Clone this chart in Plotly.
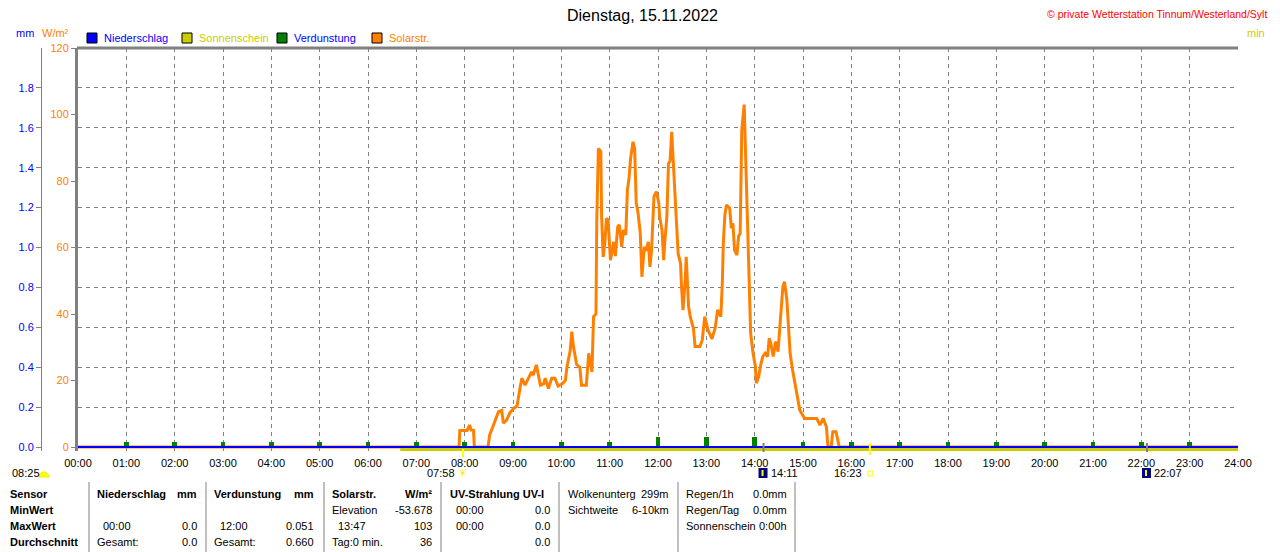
import math
import plotly.graph_objects as go

# ---- data --------------------------------------------------------------
solar_time = [
    "00:00", "07:53", "07:54", "08:03", "08:06", "08:08", "08:11", "08:12",
    "08:29", "08:31", "08:35", "08:42", "08:46", "08:48", "08:52", "08:56",
    "09:01", "09:05", "09:09", "09:11", "09:15", "09:19", "09:23", "09:25",
    "09:29", "09:34", "09:38", "09:40", "09:44", "09:48", "09:52", "09:56",
    "10:01", "10:05", "10:07", "10:11", "10:13", "10:15", "10:19", "10:23",
    "10:25", "10:31", "10:34", "10:38", "10:40", "10:43", "10:44", "10:46",
    "10:49", "10:50", "10:52", "10:54", "10:56", "10:58",
    "11:01", "11:02", "11:05", "11:07", "11:10", "11:12", "11:15", "11:17",
    "11:20", "11:22", "11:24", "11:26", "11:29", "11:31", "11:33", "11:35",
    "11:38", "11:40", "11:43", "11:45", "11:48", "11:50", "11:52", "11:55",
    "11:58",
    "12:01", "12:02", "12:05", "12:07", "12:08", "12:11", "12:13", "12:15",
    "12:17", "12:19", "12:21", "12:23", "12:25", "12:28", "12:29", "12:31",
    "12:34", "12:35", "12:38", "12:40", "12:44", "12:46", "12:52", "12:55",
    "12:58",
    "13:02", "13:07", "13:11", "13:14", "13:18", "13:20", "13:21", "13:23",
    "13:25", "13:29", "13:31", "13:33", "13:35", "13:38", "13:40", "13:42",
    "13:44", "13:47", "13:48", "13:50", "13:52", "13:53", "13:55", "13:58",
    "14:01", "14:02", "14:05", "14:07", "14:10", "14:13", "14:16", "14:18",
    "14:20", "14:23", "14:26", "14:29", "14:32", "14:35", "14:37", "14:40",
    "14:42", "14:44", "14:47", "14:50", "14:53", "14:56",
    "15:02", "15:17", "15:21", "15:25", "15:29", "15:31", "15:35", "15:37",
    "15:41", "15:45", "24:00",
]
solar_wm2 = [
    0, 0, 5.0, 5.0, 6.6, 5.1, 5.0, 0,
    0, 3.6, 6.1, 10.6, 11.0, 7.2, 8.1, 10.2,
    11.7, 12.3, 18.1, 20.7, 18.6, 20.7, 22.6, 21.6,
    24.7, 18.6, 19.0, 20.7, 17.6, 20.7, 20.7, 18.3,
    19.0, 20.0, 24.1, 29.0, 34.7, 30.2, 24.8, 24.0,
    18.6, 18.6, 28.2, 22.6, 39.2, 40.0, 68.3, 89.8,
    88.8, 69.3, 57.2, 61.3, 68.8, 68.3,
    56.2, 57.6, 61.7, 57.4, 66.3, 66.8, 60.2, 65.3,
    63.8, 77.3, 80.8, 86.8, 91.8, 89.8, 73.3, 70.8,
    64.3, 51.2, 60.2, 59.0, 61.7, 54.2, 59.2, 75.3,
    76.8,
    73.3, 69.3, 65.3, 56.2, 60.2, 69.3, 85.3, 86.0,
    94.8, 84.3, 73.3, 67.3, 58.2, 55.2, 49.2, 41.2,
    51.2, 57.2, 42.2, 39.2, 35.7, 30.2, 30.2, 32.2,
    39.2,
    35.2, 32.5, 35.8, 41.2, 39.2, 50.2, 60.8, 69.8,
    72.8, 71.8, 65.8, 67.3, 59.2, 57.7, 63.3, 64.3,
    95.3, 103.0, 94.3, 76.3, 58.2, 45.2, 34.2, 28.2,
    24.1, 19.2, 21.1, 24.1, 27.2, 28.2, 27.2, 32.7,
    31.2, 27.2, 31.7, 28.7, 38.2, 48.2, 49.7, 44.2,
    36.2, 28.2, 23.2, 19.2, 16.1, 11.1,
    8.6, 8.6, 6.6, 8.6, 6.1, 0, 0, 4.6,
    4.6, 0, 0,
]

verd_hour = list(range(1, 24))
verd_mm = [0.025, 0.025, 0.025, 0.025, 0.025, 0.025, 0.025, 0.025, 0.025, 0.025,
           0.025, 0.051, 0.049, 0.050, 0.025, 0.025, 0.025, 0.025, 0.025, 0.025,
           0.025, 0.025, 0.025]

nieder_time = ["00:00", "24:00"]
nieder_mm = [0.0, 0.0]

sonnen_time = ["06:40", "24:00"]
sonnen_min = [0.0, 0.0]

x_ticks = list(range(25))
x_labels = [f"{h:02d}:00" for h in x_ticks]
wm2_ticks = [0, 20, 40, 60, 80, 100, 120]
mm_ticks = [0.0, 0.2, 0.4, 0.6, 0.8, 1.0, 1.2, 1.4, 1.6, 1.8]
min_ticks = [0, 5, 10, 15, 20]

title = "Dienstag, 15.11.2022"
copyright = "© private Wetterstation Tinnum/Westerland/Sylt"
legend_items = ["Niederschlag", "Sonnenschein", "Verdunstung", "Solarstr."]

sunrise, sunset = "07:58", "16:23"
moonrise, moonset = "14:11", "22:07"
left_event = "08:25"

row_names = ["Sensor", "MinWert", "MaxWert", "Durchschnitt"]
stat_cols = [
    ("Niederschlag", "mm", ["", "00:00", "Gesamt:"], ["", "0.0", "0.0"]),
    ("Verdunstung", "mm", ["", "12:00", "Gesamt:"], ["", "0.051", "0.660"]),
    ("Solarstr.", "W/m²", ["Elevation", "13:47", "Tag:0 min."], ["-53.678", "103", "36"]),
    ("UV-Strahlung UV-I", "", ["00:00", "00:00", ""], ["0.0", "0.0", "0.0"]),
]
wolken = [("Wolkenunterg", "299m"), ("Sichtweite", "6-10km")]
regen = [("Regen/1h", "0.0mm"), ("Regen/Tag", "0.0mm"), ("Sonnenschein", "0:00h")]

# ---- styling ----------------------------------------------------------
BLUE = "#0000ff"
ORANGE = "#ff8000"
YELLOW = "#cccc00"
GREEN = "#008000"
GRID = "#808080"
FONT = "Arial, Liberation Sans, sans-serif"

# the page body has an 8px margin, so the figure is drawn 8px smaller and
# every position below is given in screen pixels and shifted by OFF
OFF = 8
W, H = 1280 - OFF, 552 - OFF
ML, MR, MT, MB = 2, 42, 40, 101
PW = W - ML - MR
PH = H - MT - MB


def px(x):
    return (x - OFF - ML) / PW


def py(y):
    return (H - MB - (y - OFF)) / PH


def hrs(t):
    h, m = t.split(":")
    return int(h) + int(m) / 60


fig = go.Figure()

fig.add_trace(go.Scatter(
    x=[hrs(t) for t in solar_time], y=solar_wm2, mode="lines",
    line=dict(color=ORANGE, width=3), yaxis="y", hoverinfo="skip"))
fig.add_trace(go.Bar(
    x=verd_hour, y=verd_mm, width=0.09, marker=dict(color=GREEN, line_width=0),
    yaxis="y2", hoverinfo="skip"))
fig.add_trace(go.Scatter(
    x=[hrs(t) for t in nieder_time], y=nieder_mm, mode="lines",
    line=dict(color=BLUE, width=2), yaxis="y2", hoverinfo="skip"))
fig.add_trace(go.Scatter(
    x=[hrs(t) for t in sonnen_time], y=sonnen_min, mode="lines",
    line=dict(color=YELLOW, width=3), yaxis="y4", hoverinfo="skip"))

annotations = []


def txt(x, y, s, color="black", size=11, anchor="left", bold=False, **kw):
    annotations.append(dict(
        x=px(x), y=py(y), xref="paper", yref="paper", text=f"<b>{s}</b>" if bold else s,
        showarrow=False, xanchor=anchor, yanchor="middle",
        font=dict(family=FONT, size=size, color=color), **kw))


txt(642, 16, title, size=16, anchor="center")
txt(1268, 14, copyright, color="#ff0000", size=10.5, anchor="right", borderpad=0)
txt(14, 33, "mm", color=BLUE)
txt(40, 33, "W/m²", color=ORANGE)
txt(1245, 33, "min", color=YELLOW)

shapes = []
# legend
legend_fill = [BLUE, YELLOW, GREEN, ORANGE]
legend_text = [BLUE, YELLOW, BLUE, ORANGE]
for i, name in enumerate(legend_items):
    x0 = 87 + 95 * i
    shapes.append(dict(type="rect", xref="paper", yref="paper",
                       x0=px(x0), x1=px(x0 + 10), y0=py(43), y1=py(33),
                       fillcolor=legend_fill[i], line=dict(color="black", width=1)))
    txt(x0 + 15, 38, name, color=legend_text[i])

# top frame
shapes.append(dict(type="line", xref="paper", yref="paper", x0=px(77), x1=1,
                   y0=1, y1=1, line=dict(color=GRID, width=3)))

# sun / moon events under the axis
shapes.append(dict(type="line", xref="x", yref="paper", x0=hrs(sunrise), x1=hrs(sunrise),
                   y0=py(457), y1=py(449), line=dict(color="#ffff00", width=2)))
shapes.append(dict(type="line", xref="x", yref="paper", x0=hrs(sunset), x1=hrs(sunset),
                   y0=py(455), y1=py(443), line=dict(color="#ffff00", width=2)))
for t in (moonrise, moonset):
    shapes.append(dict(type="line", xref="x", yref="paper", x0=hrs(t), x1=hrs(t),
                       y0=py(452), y1=py(443), line=dict(color=GRID, width=2)))
    shapes.append(dict(type="rect", xref="x", yref="paper", xsizemode="pixel",
                       xanchor=hrs(t), x0=-5, x1=4, y0=py(478), y1=py(468),
                       fillcolor="#000080", line_width=0))
    shapes.append(dict(type="line", xref="x", yref="paper", xsizemode="pixel",
                       xanchor=hrs(t), x0=-1, x1=-1, y0=py(476), y1=py(470),
                       line=dict(color="#ffff00", width=2)))
    annotations.append(dict(x=hrs(t), y=py(473), xref="x", yref="paper", text=t,
                            showarrow=False, xanchor="left", yanchor="middle", xshift=5,
                            font=dict(family=FONT, size=11, color="black")))

annotations.append(dict(x=hrs(sunrise), y=py(473), xref="x", yref="paper", text=sunrise,
                        showarrow=False, xanchor="right", yanchor="middle", xshift=-6,
                        font=dict(family=FONT, size=11, color="black")))
annotations.append(dict(x=hrs(sunrise), y=py(473), xref="x", yref="paper", text="☀",
                        showarrow=False, xanchor="center", yanchor="middle",
                        font=dict(family="DejaVu Sans", size=11, color="#ffee00")))
annotations.append(dict(x=hrs(sunset), y=py(473), xref="x", yref="paper", text=sunset,
                        showarrow=False, xanchor="right", yanchor="middle", xshift=-6,
                        font=dict(family=FONT, size=11, color="black")))
shapes.append(dict(type="rect", xref="x", yref="paper", xsizemode="pixel",
                   xanchor=hrs(sunset), x0=-2, x1=3, y0=py(476), y1=py(471),
                   line=dict(color="#ffff00", width=1)))

txt(10, 473, left_event)
cx, cy, r = 44, 477, 5
pts = []
for k in range(13):
    a = math.pi * k / 12
    pts.append((px(cx - r * math.cos(a)), py(cy - r * math.sin(a))))
path = "M " + " L ".join(f"{a:.5f},{b:.5f}" for a, b in pts) + " Z"
shapes.append(dict(type="path", xref="paper", yref="paper", path=path,
                   fillcolor="#ffff00", line=dict(color="#eeee00", width=1)))

# statistics table
for xs in (89, 206, 324, 441, 559, 678, 795):
    shapes.append(dict(type="line", xref="paper", yref="paper", x0=px(xs), x1=px(xs),
                       y0=py(482), y1=py(552), line=dict(color=GRID, width=1)))

row_y = [494, 510, 526, 542]
for name, y in zip(row_names, row_y):
    txt(8, y, name, bold=True)

col_left = [95, 212, 330, 448]
col_right = [199, 316, 434, 552]
for (head, unit, labels, values), xl, xr in zip(stat_cols, col_left, col_right):
    txt(xl, row_y[0], head, bold=True)
    if unit:
        txt(xr, row_y[0], unit, bold=True, anchor="right")
    for lab, val, y in zip(labels, values, row_y[1:]):
        if lab:
            indent = 6 if ":" in lab and lab[0].isdigit() else 0
            txt(xl + indent, y, lab)
        if val:
            txt(xr, y, val, anchor="right")

for (lab, val), y in zip(wolken, row_y):
    txt(566, y, lab)
    txt(671, y, val, anchor="right")
for (lab, val), y in zip(regen, row_y):
    txt(684, y, lab)
    txt(789, y, val, anchor="right")

fig.update_layout(
    width=W, height=H,
    margin=dict(l=ML, r=MR, t=MT, b=MB, autoexpand=False),
    paper_bgcolor="white", plot_bgcolor="white",
    showlegend=False, bargap=0,
    font=dict(family=FONT, size=11, color="black"),
    xaxis=dict(domain=[px(78), 1], range=[0, 24], tickvals=x_ticks, ticktext=x_labels,
               showgrid=True, gridcolor=GRID, griddash="4px,4px", gridwidth=1,
               ticks="outside", ticklen=2, tickcolor="rgba(0,0,0,0)",
               zeroline=False, showline=False, fixedrange=True, automargin=False),
    yaxis=dict(range=[-1.2, 120], tickvals=wm2_ticks, tickfont=dict(color=ORANGE),
               ticks="outside", ticklen=4, tickcolor=GRID, showgrid=False,
               zeroline=False, showline=True, linecolor=GRID, linewidth=3,
               fixedrange=True, automargin=False),
    yaxis2=dict(overlaying="y", anchor="free", position=px(41), side="left",
                range=[-0.02, 2.0], tickvals=mm_ticks,
                ticktext=[f"{v:.1f}" for v in mm_ticks], tickfont=dict(color=BLUE),
                showgrid=True, gridcolor=GRID, griddash="4px,4px", gridwidth=1,
                ticks="outside", ticklen=5, tickcolor=GRID,
                zeroline=False, showline=True, linecolor=GRID, linewidth=1,
                fixedrange=True, automargin=False),
    yaxis3=dict(overlaying="y", anchor="x", side="right", range=[-0.2, 20],
                tickvals=min_ticks, tickfont=dict(color=YELLOW),
                ticks="outside", ticklen=5, tickcolor=GRID, showgrid=False,
                zeroline=False, showline=True, linecolor=GRID, linewidth=3,
                fixedrange=True, automargin=False),
    yaxis4=dict(overlaying="y", range=[-0.075, 20], visible=False, fixedrange=True),
    shapes=shapes,
    annotations=annotations,
)

fig.write_html("out.html")
